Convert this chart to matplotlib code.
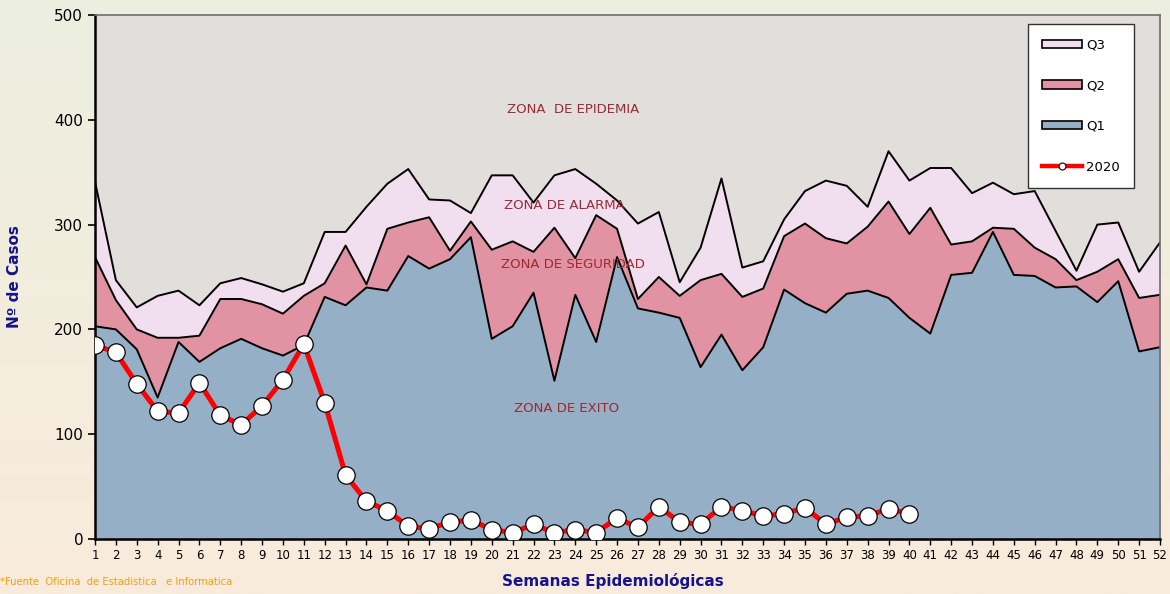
import numpy as np
import matplotlib
matplotlib.use("Agg")
import matplotlib.pyplot as plt
from matplotlib.patches import Patch
from matplotlib.lines import Line2D

# --------------------------------------------------------------------------
# DATOS (canal endémico por semana epidemiológica)
# --------------------------------------------------------------------------
semanas = list(range(1, 53))

q1 = [203, 200, 181, 135, 188, 169, 182, 191, 182, 175,
      185, 231, 223, 240, 237, 270, 258, 267, 288, 191,
      203, 235, 151, 233, 188, 269, 220, 216, 211, 164,
      195, 161, 183, 238, 225, 216, 234, 237, 230, 211,
      196, 252, 254, 293, 252, 251, 240, 241, 226, 246,
      179, 183]

q2 = [269, 228, 200, 192, 192, 194, 229, 229, 224, 215,
      232, 244, 280, 243, 296, 302, 307, 275, 303, 276,
      284, 274, 297, 268, 309, 296, 229, 250, 232, 247,
      253, 231, 239, 289, 301, 287, 282, 298, 322, 291,
      316, 281, 284, 297, 296, 278, 267, 247, 255, 267,
      230, 233]

q3 = [341, 247, 221, 232, 237, 223, 244, 249, 243, 236,
      244, 293, 293, 317, 339, 353, 324, 323, 311, 347,
      347, 321, 347, 353, 339, 323, 301, 312, 245, 278,
      344, 259, 265, 305, 332, 342, 337, 317, 370, 342,
      354, 354, 330, 340, 329, 332, 294, 256, 300, 302,
      255, 283]

semanas_2020 = list(range(1, 41))
casos_2020 = [185, 178, 148, 122, 120, 149, 118, 109, 127, 152,
              186, 130, 61, 36, 27, 12, 10, 16, 18, 9,
              6, 14, 6, 9, 6, 20, 11, 31, 16, 14,
              31, 27, 22, 24, 30, 14, 21, 22, 29, 24]

# --------------------------------------------------------------------------
# COLORES
# --------------------------------------------------------------------------
C_FONDO = "#E2DEDB"
C_Q1 = "#95AFC7"
C_Q2 = "#E192A3"
C_Q3 = "#F1DEEF"
C_ZONA = "#9A2B33"
C_AZUL = "#14148C"

fig = plt.figure(figsize=(11.7, 5.94), dpi=100)

# fondo degradado de la figura
bg = fig.add_axes([0, 0, 1, 1], zorder=-10)
grad = np.linspace(0, 1, 256).reshape(-1, 1)
top = np.array([0xEC, 0xEF, 0xE0]) / 255
bot = np.array([0xF9, 0xEB, 0xDB]) / 255
img = top[None, None, :] * (1 - grad[:, :, None]) + bot[None, None, :] * grad[:, :, None]
bg.imshow(img, aspect="auto", extent=[0, 1, 0, 1])
bg.axis("off")

ax = fig.add_axes([95 / 1170, 1 - 539 / 594, (1160 - 95) / 1170, (539 - 15) / 594])
ax.set_facecolor(C_FONDO)

x = np.array(semanas)
ax.fill_between(x, 0, q1, color=C_Q1, lw=0, zorder=1)
ax.fill_between(x, q1, q2, color=C_Q2, lw=0, zorder=1)
ax.fill_between(x, q2, q3, color=C_Q3, lw=0, zorder=1)
for serie in (q1, q2, q3):
    ax.plot(x, serie, color="black", lw=1.4, zorder=2)

ax.plot(semanas_2020, casos_2020, color="red", lw=3.6, marker="o",
        markersize=12.5, markerfacecolor="white", markeredgecolor="black",
        markeredgewidth=0.9, zorder=4)

# textos de zonas
ax.text(23.9, 410, "ZONA  DE EPIDEMIA", color=C_ZONA, fontsize=9.5, ha="center", va="center")
ax.text(23.5, 318, "ZONA DE ALARMA", color=C_ZONA, fontsize=9.5, ha="center", va="center")
ax.text(23.9, 262, "ZONA DE SEGURIDAD", color=C_ZONA, fontsize=9.5, ha="center", va="center")
ax.text(23.6, 125, "ZONA DE EXITO", color=C_ZONA, fontsize=9.5, ha="center", va="center")

ax.set_xlim(1, 52)
ax.set_ylim(0, 500)
ax.set_xticks(semanas)
ax.set_xticklabels([str(s) for s in semanas], fontsize=8.5)
ax.set_yticks(range(0, 501, 100))
ax.tick_params(axis="y", labelsize=11, length=5, width=1.2, direction="out")
ax.tick_params(axis="x", length=4, width=1, direction="out", pad=3)

for lado in ("left", "bottom"):
    ax.spines[lado].set_linewidth(1.8)
    ax.spines[lado].set_color("black")
for lado in ("top", "right"):
    ax.spines[lado].set_linewidth(1.2)
    ax.spines[lado].set_color("#6E6E6E")

fig.text(15 / 1170, 1 - 277 / 594, "Nº de Casos", rotation=90, color=C_AZUL,
         fontsize=11, fontweight="bold", ha="center", va="center")
fig.text(613 / 1170, 1 - 581 / 594, "Semanas Epidemiológicas", color=C_AZUL,
         fontsize=11, fontweight="bold", ha="center", va="center")
fig.text(0, 1 - 582 / 594, "*Fuente  Oficina  de Estadistica   e Informatica",
         color="#F59E12", fontsize=8, ha="left", va="center", stretch="condensed")

handles = [
    Patch(facecolor=C_Q3, edgecolor="black", lw=1.2),
    Patch(facecolor=C_Q2, edgecolor="black", lw=1.2),
    Patch(facecolor=C_Q1, edgecolor="black", lw=1.2),
    Line2D([0], [0], color="red", lw=3.2, marker="o", markersize=5,
           markerfacecolor="white", markeredgecolor="black", markeredgewidth=0.8),
]
leg = ax.legend(handles, ["Q3", "Q2", "Q1", "2020"], loc="upper right",
                bbox_to_anchor=(0.9756, 0.983), fontsize=9.5, frameon=True,
                fancybox=False, edgecolor="#333333", labelspacing=2.1,
                handlelength=3.0, handleheight=0.6, borderpad=1.1,
                handletextpad=0.3, borderaxespad=0.0)
leg.get_frame().set_linewidth(1.0)
leg.get_frame().set_facecolor("white")
leg.get_frame().set_alpha(1)

fig.savefig("out.png", dpi=100)
